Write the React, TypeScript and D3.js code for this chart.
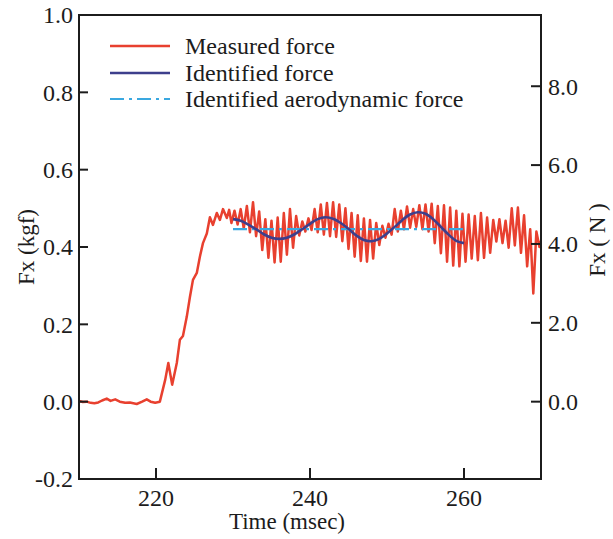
import React from "react";
import * as d3 from "d3";

// ---------- data ----------
const xTicks = [220, 240, 260];
const yTicksKgf = [-0.2, 0.0, 0.2, 0.4, 0.6, 0.8, 1.0];
const yTicksN = [0, 2, 4, 6, 8];
const KGF_TO_N = 9.80665;

const legendLabels = ["Measured force", "Identified force", "Identified aerodynamic force"];

// measured force: quiet part and rise (time ms, force kgf)
const riseTimes = [
  210.0, 210.5, 211.0, 211.5, 212.0, 212.5, 213.0, 213.6, 214.1, 214.7, 215.3, 216.0, 216.6,
  217.5, 218.2, 218.8, 219.3, 219.9, 220.5, 221.2, 221.6, 222.1, 222.7, 223.1, 223.5, 224.0,
  224.4, 224.8, 225.3, 225.7, 226.1, 226.6, 227.0, 227.4, 227.9, 228.3, 228.7, 229.2, 229.5,
];
const riseValues = [
  0.002, -0.001, 0.0, -0.003, -0.004, -0.002, 0.003, 0.008, 0.002, 0.006, 0.0, -0.003, -0.002,
  -0.006, 0.0, 0.006, 0.0, -0.003, 0.0, 0.057, 0.1, 0.044, 0.1, 0.16, 0.17, 0.22,
  0.27, 0.315, 0.333, 0.375, 0.41, 0.435, 0.477, 0.457, 0.488, 0.47, 0.498, 0.475, 0.496,
];

// measured force: oscillating part, sampled every 0.4 ms from 229.8 ms
const oscStart = 229.8;
const oscStep = 0.4;
const oscValues = [
  0.462, 0.494, 0.458, 0.498, 0.448, 0.506, 0.438, 0.516, 0.428, 0.492,
  0.392, 0.472, 0.372, 0.468, 0.36, 0.476, 0.362, 0.488, 0.38, 0.498,
  0.398, 0.48, 0.43, 0.466, 0.44, 0.474, 0.444, 0.498, 0.438, 0.51,
  0.432, 0.514, 0.428, 0.516, 0.426, 0.51, 0.415, 0.5, 0.395, 0.488,
  0.375, 0.482, 0.364, 0.474, 0.362, 0.47, 0.37, 0.462, 0.405, 0.455,
  0.424, 0.46, 0.432, 0.498, 0.44, 0.494, 0.446, 0.505, 0.45, 0.498,
  0.452, 0.508, 0.446, 0.51, 0.44, 0.512, 0.41, 0.506, 0.384, 0.508,
  0.362, 0.502, 0.352, 0.494, 0.35, 0.486, 0.362, 0.484, 0.37, 0.48,
  0.366, 0.488, 0.372, 0.476, 0.385, 0.47, 0.414, 0.472, 0.41, 0.468,
  0.398, 0.5, 0.404, 0.502, 0.385, 0.482, 0.35, 0.446, 0.28, 0.44,
  0.4, 0.43,
];

// identified force
const identTimes = [
  230, 231, 232, 233, 234, 235, 236, 237, 238, 239, 240, 241, 242, 243, 244, 245,
  246, 247, 248, 249, 250, 251, 252, 253, 254, 255, 256, 257, 258, 259, 260,
];
const identValues = [
  0.472, 0.468, 0.458, 0.446, 0.433, 0.424, 0.421, 0.424, 0.433, 0.446, 0.46, 0.472, 0.477, 0.473, 0.462, 0.447,
  0.43, 0.418, 0.415, 0.421, 0.435, 0.452, 0.47, 0.484, 0.49, 0.486, 0.472, 0.452, 0.432, 0.416, 0.41,
];

// identified aerodynamic force
const aeroTimes = [230, 260];
const aeroValues = [0.446, 0.446];

// ---------- layout ----------
const W = 613;
const H = 539;
const L = 79;
const R = 541;
const T = 15;
const B = 479;
const FONT = "Liberation Serif, DejaVu Serif, serif";
const RED = "#e8402f";
const NAVY = "#3d3f8c";
const CYAN = "#3aa8e0";
const INK = "#1c1c1c";
const TICK_FS = 24;
const LEGEND_FS = 24;

const textStyle = { fontFamily: FONT };

export default function App() {
  const x = d3.scaleLinear().domain([210, 270]).range([L, R]);
  const y = d3.scaleLinear().domain([-0.2, 1.0]).range([B, T]);
  const yN = d3.scaleLinear().domain([-0.2 * KGF_TO_N, 1.0 * KGF_TO_N]).range([B, T]);

  const measured: [number, number][] = [
    ...riseTimes.map((t, i) => [t, riseValues[i]] as [number, number]),
    ...oscValues.map((v, i) => [oscStart + i * oscStep, v] as [number, number]),
  ];
  const ident: [number, number][] = identTimes.map((t, i) => [t, identValues[i]]);
  const aero: [number, number][] = aeroTimes.map((t, i) => [t, aeroValues[i]]);

  const lineLin = d3.line<[number, number]>().x((d) => x(d[0])).y((d) => y(d[1]));
  const lineSmooth = d3
    .line<[number, number]>()
    .x((d) => x(d[0]))
    .y((d) => y(d[1]))
    .curve(d3.curveCatmullRom);

  const legendY = [46, 73, 99];
  const legendStyles = [
    { stroke: RED, width: 2.4, dash: undefined as string | undefined },
    { stroke: NAVY, width: 2.6, dash: undefined as string | undefined },
    { stroke: CYAN, width: 2.2, dash: "14,5,3,5" },
  ];

  return (
    <svg
      width={W}
      height={H}
      style={{ position: "absolute", left: 0, top: 0, background: "#fff", fontFamily: FONT }}
    >
      <defs>
        <clipPath id="plotclip">
          <rect x={L} y={T} width={R - L} height={B - T} />
        </clipPath>
      </defs>

      {/* data */}
      <g clipPath="url(#plotclip)">
        <path d={lineLin(measured) || ""} fill="none" stroke={RED} strokeWidth={2.5} strokeLinejoin="round" />
        <path d={lineLin(aero) || ""} fill="none" stroke={CYAN} strokeWidth={2.2} strokeDasharray="14,5,3,5" />
        <path d={lineSmooth(ident) || ""} fill="none" stroke={NAVY} strokeWidth={2.6} />
      </g>

      {/* frame */}
      <rect x={L} y={T} width={R - L} height={B - T} fill="none" stroke={INK} strokeWidth={2} />

      {/* left axis */}
      {yTicksKgf.map((v) => (
        <g key={"l" + v}>
          <line x1={L} x2={L + 9} y1={y(v)} y2={y(v)} stroke={INK} strokeWidth={2} />
          <text x={L - 6} y={y(v)} dy="0.35em" textAnchor="end" fontSize={TICK_FS} fill={INK} style={textStyle}>
            {v.toFixed(1)}
          </text>
        </g>
      ))}

      {/* right axis */}
      {yTicksN.map((v) => (
        <g key={"r" + v}>
          <line x1={R - 10} x2={R} y1={yN(v)} y2={yN(v)} stroke={INK} strokeWidth={2} />
          <text x={R + 7} y={yN(v)} dy="0.35em" textAnchor="start" fontSize={TICK_FS} fill={INK} style={textStyle}>
            {v.toFixed(1)}
          </text>
        </g>
      ))}

      {/* bottom axis */}
      {xTicks.map((v) => (
        <g key={"b" + v}>
          <line x1={x(v)} x2={x(v)} y1={B} y2={B - 11} stroke={INK} strokeWidth={2} />
          <text x={x(v)} y={B + 27} textAnchor="middle" fontSize={TICK_FS} fill={INK} style={textStyle}>
            {v}
          </text>
        </g>
      ))}

      {/* axis titles */}
      <text x={(L + R) / 2 - 23} y={529} textAnchor="middle" fontSize={23} fill={INK} style={textStyle}>
        Time (msec)
      </text>
      <text
        transform={`translate(34,${247}) rotate(-90)`}
        textAnchor="middle"
        fontSize={23}
        fill={INK}
        style={textStyle}
      >
        Fx (kgf)
      </text>
      <text
        transform={`translate(605,${240}) rotate(-90)`}
        textAnchor="middle"
        fontSize={23}
        fill={INK}
        style={textStyle}
      >
        Fx ( N )
      </text>

      {/* legend */}
      {legendLabels.map((lab, i) => (
        <g key={lab}>
          <line
            x1={110}
            x2={170}
            y1={legendY[i]}
            y2={legendY[i]}
            stroke={legendStyles[i].stroke}
            strokeWidth={legendStyles[i].width}
            strokeDasharray={legendStyles[i].dash}
          />
          <text x={185} y={legendY[i] + 8} fontSize={LEGEND_FS} fill={INK} style={textStyle}>
            {lab}
          </text>
        </g>
      ))}
    </svg>
  );
}
